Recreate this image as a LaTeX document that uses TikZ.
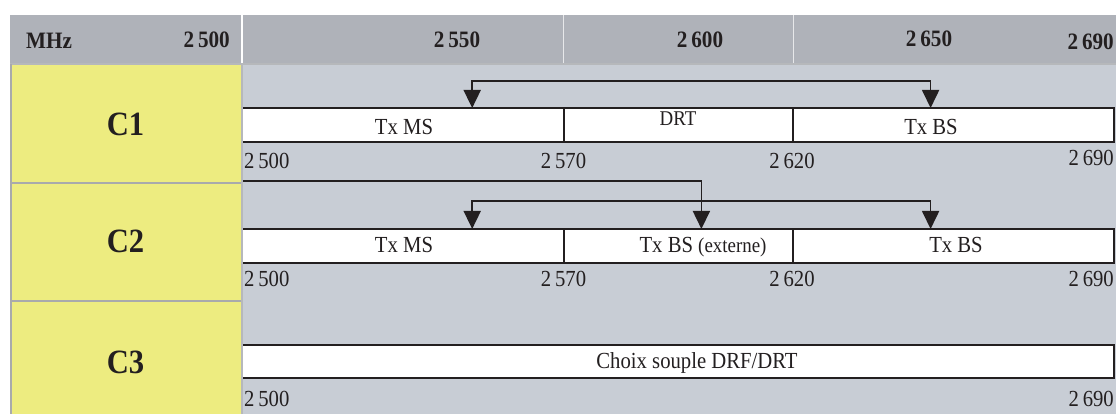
\documentclass[tikz,border=0pt]{standalone}
\usepackage{fontspec}
\setmainfont{Liberation Serif}[FakeStretch=0.9]
\usetikzlibrary{arrows.meta}
\definecolor{hdr}{HTML}{AFB2B9}
\definecolor{bodyc}{HTML}{C8CDD5}
\definecolor{ylw}{HTML}{EDEC80}
\definecolor{ink}{HTML}{231F20}
\definecolor{sepc}{HTML}{A9AAAC}
\definecolor{edgec}{HTML}{B6B8BB}
\begin{document}
\begin{tikzpicture}[x=1pt,y=-1pt,
  txt/.style={inner sep=0pt,text=ink,font=\fontsize{23}{25}\selectfont,anchor=base},
  hd/.style={txt,font=\bfseries\fontsize{23.5}{25}\selectfont},
  cl/.style={inner sep=0pt,text=ink,font=\bfseries\fontsize{34}{36}\selectfont,anchor=base},
  boxline/.style={line width=1.7pt,draw=ink},
  arr/.style={line width=1.7pt,draw=ink,-{Triangle[length=18pt,width=17pt]}},
  dbl/.style={line width=1.7pt,draw=ink,{Triangle[length=18pt,width=17pt]}-{Triangle[length=18pt,width=17pt]}}]
\useasboundingbox (0,0) rectangle (1116,414);
% backgrounds
\fill[hdr] (10,15) rectangle (1116,63);
\fill[bodyc] (243,63) rectangle (1116,414);
\fill[ylw] (10,63) rectangle (241,414);
\draw[edgec,line width=1.5pt] (10,64) -- (1116,64);
\draw[white,line width=1.8pt] (242,15) -- (242,63);
\draw[white!70!hdr,line width=1pt] (563.9,15) -- (563.9,63) (793.1,15) -- (793.1,63);
\draw[edgec,line width=1.8pt] (242,64) -- (242,414);
\draw[sepc,line width=1.5pt] (10.8,64) -- (10.8,414);
\draw[sepc,line width=1.3pt] (10,183) -- (241,183) (10,301) -- (241,301);
% header
\node[hd,anchor=base west] (mhz) at (26,48.5) {MHz};
\node[hd,anchor=base east] (h2500) at (230,48) {2\,500};
\node[hd] (h2550) at (457,48) {2\,550};
\node[hd] (h2600) at (700,48) {2\,600};
\node[hd] (h2650) at (929,47) {2\,650};
\node[hd,anchor=base east] (h2690) at (1114,50) {2\,690};
% row labels
\node[cl] (c1) at (125.5,135.5) {C1};
\node[cl] (c2) at (125.5,252.5) {C2};
\node[cl] (c3) at (125.5,373.5) {C3};
% ---- C1 ----
\fill[white] (243,108) rectangle (1114,142);
\draw[boxline] (243,108) -- (1114,108) -- (1114,142) -- (243,142);
\draw[boxline] (563.9,108) -- (563.9,142) (793.1,108) -- (793.1,142);
\node[txt] (c1ms) at (404,134.5) {Tx MS};
\node[txt,font=\fontsize{21}{23}\selectfont] (c1drt) at (678,125.5) {DRT};
\node[txt] (c1bs) at (931,134.5) {Tx BS};
\coordinate (c1l) at (472.2,108);
\coordinate (c1r) at (930.6,108);
\coordinate (c1t) at (0,80.7);
\draw[dbl] (c1l) -- (c1l|-c1t) -- (c1r|-c1t) -- (c1r);
\node[txt,anchor=base west] (c1a) at (244,168.5) {2\,500};
\node[txt] (c1b) at (563.5,168.5) {2\,570};
\node[txt] (c1c) at (792,168.5) {2\,620};
\node[txt,anchor=base east] (c1d) at (1114,165.5) {2\,690};
% ---- C2 ----
\fill[white] (243,229) rectangle (1114,263);
\draw[boxline] (243,229) -- (1114,229) -- (1114,263) -- (243,263);
\draw[boxline] (563.9,229) -- (563.9,263) (793.1,229) -- (793.1,263);
\node[txt] (c2ms) at (404,252.5) {Tx MS};
\node[txt] (c2ext) at (703,252.5) {Tx BS {\fontsize{21}{23}\selectfont(externe)}};
\node[txt] (c2bs) at (956,252.5) {Tx BS};
\coordinate (c2s) at (243,180.7);
\coordinate (c2m) at (701.4,229);
\draw[arr] (c2s) -| (c2m);
\coordinate (c2l) at (472.2,229);
\coordinate (c2r) at (930.6,229);
\coordinate (c2t) at (0,201);
\draw[dbl] (c2l) -- (c2l|-c2t) -- (c2r|-c2t) -- (c2r);
\node[txt,anchor=base west] (c2a) at (244,286.5) {2\,500};
\node[txt] (c2b) at (563.5,286.5) {2\,570};
\node[txt] (c2c) at (792,286.5) {2\,620};
\node[txt,anchor=base east] (c2d) at (1114,286.5) {2\,690};
% ---- C3 ----
\fill[white] (243,345) rectangle (1114,378);
\draw[boxline] (243,345) -- (1114,345) -- (1114,378) -- (243,378);
\node[txt] (c3t) at (697,368.5) {Choix souple DRF/DRT};
\node[txt,anchor=base west] (c3a) at (244,406.5) {2\,500};
\node[txt,anchor=base east] (c3d) at (1114,406.5) {2\,690};
\end{tikzpicture}
\end{document}
